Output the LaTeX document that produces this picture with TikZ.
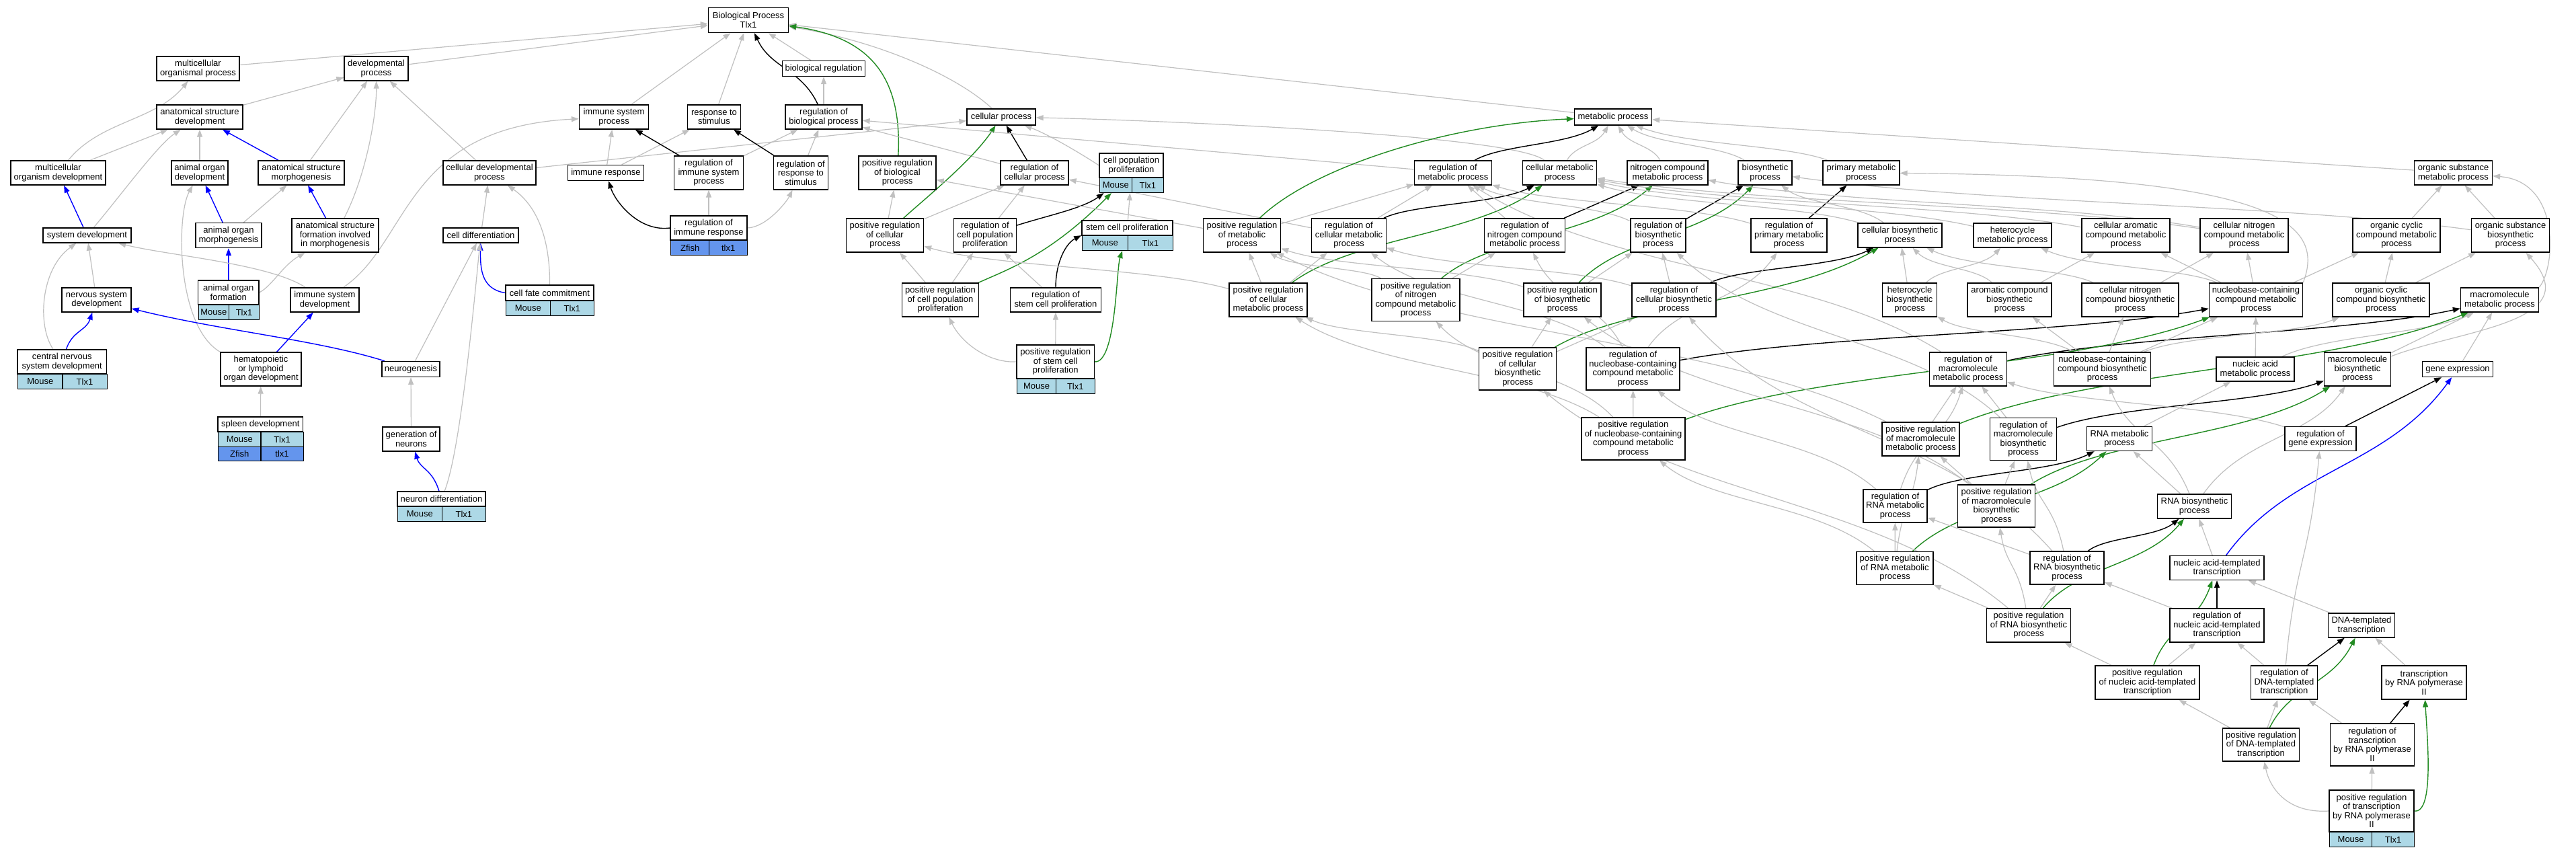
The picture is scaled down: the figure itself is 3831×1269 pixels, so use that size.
\documentclass[tikz,border=0pt]{standalone}
\usepackage{fontspec}
\setmainfont{Liberation Sans}
\usetikzlibrary{arrows.meta,fit,backgrounds,calc}
\definecolor{eg}{RGB}{192,192,192}
\definecolor{eggreen}{RGB}{34,139,34}
\definecolor{egblue}{RGB}{0,0,255}
\definecolor{lb}{RGB}{173,216,230}
\definecolor{cf}{RGB}{100,149,237}
\newcommand{\gnode}[6]{\node[gbox,minimum width=#4pt,minimum height=#5pt] (#1) at (#2,#3) {#6};}
\newcommand{\tcell}[6]{\node[gcell,fill=#5,minimum width=#4pt,anchor=north west] (#1) at (#2,#3) {#6};}
\newcommand{\Es}[3]{\draw[#1] (#2) -- (#3);}
\newcommand{\Ec}[3]{\draw[#1] let \p1=(#2), \p2=(#3) in (#2) .. controls ({0.7*\x1+0.3*\x2},{0.5*\y1+0.5*\y2}) and ({0.3*\x1+0.7*\x2},{0.5*\y1+0.5*\y2}) .. (#3);}
\begin{document}
\begin{tikzpicture}[x=1pt,y=-1pt,
 gbox/.style={draw=black, line width=1.3pt, fill=white, inner sep=0pt, align=center, font=\fontsize{13}{13.5}\selectfont},
 gcell/.style={draw=black, line width=1.3pt, inner sep=0pt, minimum height=21.5pt, font=\fontsize{13}{13.5}\selectfont},
 arr/.style={-{Triangle[length=11pt,width=8pt]}},
 eisa/.style={draw=eg, line width=1.2pt, arr},
 ereg/.style={draw=black, line width=1.4pt, arr},
 epos/.style={draw=eggreen, line width=1.4pt, arr},
 epart/.style={draw=egblue, line width=1.4pt, arr}]
\useasboundingbox (0,0) rectangle (3831,1269);
% ---------------- nodes
\gnode{bp}{1113}{30}{119}{37}{Biological Process\\Tlx1}
\gnode{mop}{294.5}{102}{123}{36}{multicellular\\organismal process}
\gnode{dp}{559.5}{102}{95}{36}{developmental\\process}
\gnode{breg}{1225}{102}{123}{23}{biological regulation}
\gnode{asd}{297}{174}{128}{36}{anatomical structure\\development}
\gnode{isp}{913}{174}{103}{36}{immune system\\process}
\gnode{rts}{1062}{174}{79}{36}{response to\\stimulus}
\gnode{rbp}{1225}{174}{114}{36}{regulation of\\biological process}
\gnode{cp}{1489}{174}{102}{24}{cellular process}
\gnode{mp}{2399}{174}{115}{24}{metabolic process}
\gnode{mod}{86.5}{257}{141}{36}{multicellular\\organism development}
\gnode{aod}{297}{257}{84}{36}{animal organ\\development}
\gnode{asm}{448}{257}{128}{36}{anatomical structure\\morphogenesis}
\gnode{cdp}{728}{257}{138}{36}{cellular developmental\\process}
\gnode{ir}{901}{257}{113}{23}{immune response}
\gnode{risp}{1054}{257}{103}{50}{regulation of\\immune system\\process}
\gnode{rrts}{1191}{257}{81}{50}{regulation of\\response to\\stimulus}
\gnode{prbp}{1334.5}{257}{115}{50}{positive regulation\\of biological\\process}
\gnode{rcp}{1538.5}{257}{101}{36}{regulation of\\cellular process}
\gnode{cpp}{1682.5}{246}{95}{36}{cell population\\proliferation}
\tcell{cppm}{1635}{264}{47.5}{lb}{Mouse}
\tcell{cppt}{1682.5}{264}{47.5}{lb}{Tlx1}
\gnode{rmp}{2161}{257}{115}{36}{regulation of\\metabolic process}
\gnode{cmp}{2319.5}{257}{110}{36}{cellular metabolic\\process}
\gnode{ncmp}{2480}{257}{120}{36}{nitrogen compound\\metabolic process}
\gnode{bsp}{2625}{257}{80}{36}{biosynthetic\\process}
\gnode{pmp}{2768}{257}{114}{36}{primary metabolic\\process}
\gnode{osmp}{3648.5}{257}{116}{36}{organic substance\\metabolic process}
\gnode{sd}{129.5}{350}{131}{22}{system development}
\gnode{aom}{340}{350}{98}{37}{animal organ\\morphogenesis}
\gnode{asfm}{498.5}{350}{129}{50}{anatomical structure\\formation involved\\in morphogenesis}
\gnode{cd}{715}{350}{112}{22}{cell differentiation}
\gnode{rir}{1054}{339}{114}{36}{regulation of\\immune response}
\tcell{rirm}{997}{357}{57}{cf}{Zfish}
\tcell{rirt}{1054}{357}{57}{cf}{tlx1}
\gnode{prcp}{1316}{350}{115}{50}{positive regulation\\of cellular\\process}
\gnode{rcpp}{1465}{350}{93}{50}{regulation of\\cell population\\proliferation}
\gnode{scp}{1676.5}{339}{135}{22}{stem cell proliferation}
\tcell{scpm}{1609}{350}{67.5}{lb}{Mouse}
\tcell{scpt}{1676.5}{350}{67.5}{lb}{Tlx1}
\gnode{prmp}{1847}{350}{115}{50}{positive regulation\\of metabolic\\process}
\gnode{rcmp}{2006}{350}{111}{50}{regulation of\\cellular metabolic\\process}
\gnode{rncmp}{2267.5}{350}{120}{50}{regulation of\\nitrogen compound\\metabolic process}
\gnode{rbsp}{2466}{350}{82}{50}{regulation of\\biosynthetic\\process}
\gnode{rpmp}{2660.5}{350}{113}{50}{regulation of\\primary metabolic\\process}
\gnode{cbp}{2825.5}{350}{125}{36}{cellular biosynthetic\\process}
\gnode{hmp}{2993}{350}{116}{36}{heterocycle\\metabolic process}
\gnode{camp}{3161.5}{350}{131}{50}{cellular aromatic\\compound metabolic\\process}
\gnode{cncmp}{3337.5}{350}{131}{50}{cellular nitrogen\\compound metabolic\\process}
\gnode{occmp}{3564}{350}{130}{50}{organic cyclic\\compound metabolic\\process}
\gnode{osbp}{3733.5}{350}{116}{50}{organic substance\\biosynthetic\\process}
\gnode{nsd}{143.5}{446}{103}{36}{nervous system\\development}
\gnode{aof}{339.75}{435}{90.5}{36}{animal organ\\formation}
\tcell{aofm}{294.5}{453}{45.25}{lb}{Mouse}
\tcell{aoft}{339.75}{453}{45.25}{lb}{Tlx1}
\gnode{isd}{483}{446}{102}{36}{immune system\\development}
\gnode{cfc}{817.5}{435.5}{131}{23}{cell fate commitment}
\tcell{cfcm}{752}{447}{65.5}{lb}{Mouse}
\tcell{cfct}{817.5}{447}{65.5}{lb}{Tlx1}
\gnode{prcpp}{1398.5}{446}{114}{50}{positive regulation\\of cell population\\proliferation}
\gnode{rscp}{1570}{446}{135}{36}{regulation of\\stem cell proliferation}
\gnode{prcmp}{1886}{446}{116}{50}{positive regulation\\of cellular\\metabolic process}
\gnode{prncmp}{2105.5}{446}{131}{63}{positive regulation\\of nitrogen\\compound metabolic\\process}
\gnode{prbsp}{2323.5}{446}{115}{50}{positive regulation\\of biosynthetic\\process}
\gnode{rcbp}{2489.5}{446}{125}{50}{regulation of\\cellular biosynthetic\\process}
\gnode{hbp}{2840}{446}{81}{50}{heterocycle\\biosynthetic\\process}
\gnode{acbp}{2988.5}{446}{125}{50}{aromatic compound\\biosynthetic\\process}
\gnode{cncbp}{3168}{446}{144}{50}{cellular nitrogen\\compound biosynthetic\\process}
\gnode{nccmp}{3355}{446}{139}{50}{nucleobase-containing\\compound metabolic\\process}
\gnode{occbp}{3541}{446}{144}{50}{organic cyclic\\compound biosynthetic\\process}
\gnode{mmp}{3717.5}{446}{116}{36}{macromolecule\\metabolic process}
\gnode{cnsd}{92.25}{538}{132.5}{36}{central nervous\\system development}
\tcell{cnsdm}{26}{556}{66.25}{lb}{Mouse}
\tcell{cnsdt}{92.25}{556}{66.25}{lb}{Tlx1}
\gnode{hlod}{388}{549}{120}{50}{hematopoietic\\or lymphoid\\organ development}
\gnode{ng}{611}{549}{86}{23}{neurogenesis}
\gnode{prscp}{1569.75}{538}{115.5}{50}{positive regulation\\of stem cell\\proliferation}
\tcell{prscpm}{1512}{563}{57.75}{lb}{Mouse}
\tcell{prscpt}{1569.75}{563}{57.75}{lb}{Tlx1}
\gnode{prcbp}{2257}{548.5}{115}{63}{positive regulation\\of cellular\\biosynthetic\\process}
\gnode{rnccmp}{2428.5}{548.5}{139}{63}{regulation of\\nucleobase-containing\\compound metabolic\\process}
\gnode{rmmp}{2927}{549}{115}{50}{regulation of\\macromolecule\\metabolic process}
\gnode{nccbp}{3126.5}{549}{144}{50}{nucleobase-containing\\compound biosynthetic\\process}
\gnode{namp}{3354}{549}{116}{36}{nucleic acid\\metabolic process}
\gnode{mbp}{3506}{549}{99}{50}{macromolecule\\biosynthetic\\process}
\gnode{ge}{3655}{549}{105}{23}{gene expression}
\gnode{spd}{387.25}{631}{126.5}{22}{spleen development}
\tcell{spdm}{324}{642}{63.25}{lb}{Mouse}
\tcell{spdt}{387.25}{642}{63.25}{lb}{Tlx1}
\tcell{spdz}{324}{663.5}{63.25}{cf}{Zfish}
\tcell{spdu}{387.25}{663.5}{63.25}{cf}{tlx1}
\gnode{gon}{611.5}{653}{85}{36}{generation of\\neurons}
\gnode{prnccmp}{2429}{652.5}{154}{63}{positive regulation\\of nucleobase-containing\\compound metabolic\\process}
\gnode{prmmp}{2856.5}{653}{115}{50}{positive regulation\\of macromolecule\\metabolic process}
\gnode{rmbp}{3009}{653}{99}{63}{regulation of\\macromolecule\\biosynthetic\\process}
\gnode{rnamp}{3152}{652.5}{97}{36}{RNA metabolic\\process}
\gnode{rge}{3451}{652.5}{106}{36}{regulation of\\gene expression}
\gnode{nd}{656.5}{742}{131}{22}{neuron differentiation}
\tcell{ndm}{591}{753}{65.5}{lb}{Mouse}
\tcell{ndt}{656.5}{753}{65.5}{lb}{Tlx1}
\gnode{rrnamp}{2818.5}{752.5}{95}{49}{regulation of\\RNA metabolic\\process}
\gnode{prmbp}{2969}{752.5}{115}{63}{positive regulation\\of macromolecule\\biosynthetic\\process}
\gnode{rnabp}{3263.5}{753}{110}{36}{RNA biosynthetic\\process}
\gnode{prrnamp}{2818}{845}{114}{49}{positive regulation\\of RNA metabolic\\process}
\gnode{rrnabp}{3074}{844.5}{110}{49}{regulation of\\RNA biosynthetic\\process}
\gnode{natt}{3297}{844.5}{140}{36}{nucleic acid-templated\\transcription}
\gnode{prrnabp}{3017}{930}{125}{50}{positive regulation\\of RNA biosynthetic\\process}
\gnode{rnatt}{3297}{930}{140}{50}{regulation of\\nucleic acid-templated\\transcription}
\gnode{dtt}{3512}{930}{99}{36}{DNA-templated\\transcription}
\gnode{prnatt}{3193.5}{1015}{155}{50}{positive regulation\\of nucleic acid-templated\\transcription}
\gnode{rdtt}{3397}{1015}{99}{50}{regulation of\\DNA-templated\\transcription}
\gnode{trp2}{3605}{1015}{126}{50}{transcription\\by RNA polymerase\\II}
\gnode{prdtt}{3362.5}{1107.5}{114}{49}{positive regulation\\of DNA-templated\\transcription}
\gnode{rtrp2}{3528}{1107.5}{125}{63}{regulation of\\transcription\\by RNA polymerase\\II}
\gnode{prtrp2}{3527}{1206}{126}{62}{positive regulation\\of transcription\\by RNA polymerase\\II}
\tcell{prtrp2m}{3464}{1237}{63}{lb}{Mouse}
\tcell{prtrp2t}{3527}{1237}{63}{lb}{Tlx1}
\node[fit=(cpp)(cppm)(cppt), inner sep=0pt] (cppA) {};
\node[fit=(scp)(scpm)(scpt), inner sep=0pt] (scpA) {};
% ---------------- edges
\begin{pgfonlayer}{background}
\fill[white] (0,0) rectangle (3831,1269);
% left
\Es{eisa}{mop}{bp}
\Es{eisa}{dp}{bp}
\Es{eisa}{asd}{dp}
\Ec{eisa}{mod}{mop}
\Es{eisa}{mod}{asd}
\Es{eisa}{aod}{asd}
\Es{epart}{asm}{asd}
\Es{eisa}{asm}{dp}
\Es{eisa}{cdp}{dp}
\Es{eisa}{cdp}{cp}
\Es{eisa}{isp}{bp}
\Es{eisa}{ir}{isp}
\Es{eisa}{ir}{rts}
\Es{epart}{sd}{mod}
\draw[eisa] (sd) .. controls (180,290) and (235,215) .. (asd);
\Es{epart}{aom}{aod}
\Es{eisa}{aom}{asm}
\Es{epart}{asfm}{asm}
\draw[eisa] (asfm) .. controls (545,260) and (560,170) .. (dp);
\Es{eisa}{cd}{cdp}
\Es{eisa}{nsd}{sd}
\Es{epart}{aof}{aom}
\draw[eisa] (aof.east) .. controls (405,425) and (420,395) .. (asfm);
\draw[eisa] (isd) .. controls (400,392) and (250,380) .. (sd);
\draw[eisa] (isd) .. controls (610,360) and (600,190) .. (isp);
\draw[epart] (cfc.west) .. controls (716,430) and (714,400) .. (cd);
\draw[eisa] (cfc) .. controls (818,340) and (790,300) .. (cdp);
\Ec{epart}{cnsd}{nsd}
\draw[eisa] (cnsd) .. controls (55,485) and (60,400) .. (sd);
\Es{epart}{hlod}{isd}
\draw[eisa] (hlod.north west) .. controls (262,485) and (262,320) .. (aod);
\draw[epart] (ng) .. controls (470,505) and (330,492) .. (nsd);
\Es{eisa}{ng}{cd}
\Es{eisa}{spd}{hlod}
\Es{eisa}{gon}{ng}
\Ec{epart}{nd}{gon}
\draw[eisa] (nd) .. controls (685,670) and (705,450) .. (cd);
% middle
\Es{eisa}{rts}{bp}
\Es{eisa}{breg}{bp}
\Ec{ereg}{rbp}{bp}
\Es{eisa}{rbp}{breg}
\draw[eisa] (cp) .. controls (1420,110) and (1300,60) .. (bp);
\Es{eisa}{mp}{bp}
\draw[epos] (prbp) .. controls (1342,110) and (1290,55) .. (bp);
\Es{ereg}{risp}{isp}
\Es{eisa}{risp}{rbp}
\Es{ereg}{rrts}{rts}
\Es{eisa}{rrts}{rbp}
\draw[ereg] (rir.west) .. controls (950,345) and (915,300) .. (ir);
\Es{eisa}{rir}{risp}
\draw[eisa] (rir.east) .. controls (1140,338) and (1170,300) .. (rrts);
\Es{ereg}{rcp}{cp}
\Es{eisa}{rcp}{rbp}
\draw[eisa] (cpp.west) .. controls (1610,230) and (1560,200) .. (cp);
\draw[epos] (prcp) .. controls (1370,300) and (1445,240) .. (cp);
\Es{eisa}{prcp}{rcp}
\Es{eisa}{prcp}{prbp}
\Es{eisa}{rcpp}{rcp}
\draw[ereg] (rcpp) .. controls (1560,320) and (1610,310) .. (cppA);
\Es{eisa}{scp}{cppA}
\Es{eisa}{prcpp}{rcpp}
\draw[epos] (prcpp) .. controls (1500,400) and (1560,380) .. (cppA);
\Es{eisa}{prcpp}{prcp}
\Es{eisa}{rscp}{rcpp}
\draw[ereg] (rscp) .. controls (1570,390) and (1585,362) .. (scpA.west);
\Es{eisa}{prscp}{rscp}
\draw[epos] (prscp.east) .. controls (1660,540) and (1660,400) .. (scpA);
\draw[eisa] (prscp.west) .. controls (1470,540) and (1430,510) .. (prcpp);
% metabolic
\draw[eisa] (cmp) .. controls (2250,200) and (1700,178) .. (cp);
\Es{eisa}{rmp}{rbp}
\Es{eisa}{rcmp}{rcp}
\Es{eisa}{prmp}{prbp}
\draw[epos] (prmp) .. controls (1950,250) and (2150,185) .. (mp);
\Es{eisa}{prmp}{rmp}
\Es{eisa}{prcmp}{prmp}
\Es{eisa}{prcmp}{rcmp}
\Ec{epos}{prcmp}{cmp}
\Ec{eisa}{prcmp}{prcp}
\Ec{ereg}{rmp}{mp}
\Ec{eisa}{cmp}{mp}
\Ec{eisa}{ncmp}{mp}
\Ec{eisa}{bsp}{mp}
\Ec{eisa}{pmp}{mp}
\Es{eisa}{osmp}{mp}
\Es{eisa}{rcmp}{rmp}
\Ec{ereg}{rcmp}{cmp}
\Es{eisa}{rncmp}{rmp}
\Es{ereg}{rncmp}{ncmp}
\Ec{eisa}{rbsp}{rmp}
\Es{ereg}{rbsp}{bsp}
\Ec{eisa}{rpmp}{rmp}
\Es{ereg}{rpmp}{pmp}
\Ec{eisa}{rmmp}{rmp}
\Es{eisa}{prncmp}{rncmp}
\Ec{epos}{prncmp}{ncmp}
\Ec{eisa}{prncmp}{prmp}
\Es{eisa}{prbsp}{rbsp}
\Ec{epos}{prbsp}{bsp}
\Ec{eisa}{prbsp}{prmp}
\Es{eisa}{rcbp}{rbsp}
\Ec{eisa}{rcbp}{rcmp}
\Ec{ereg}{rcbp}{cbp}
\Ec{eisa}{cbp}{bsp}
\Ec{eisa}{cbp}{cmp}
\Ec{eisa}{hmp}{cmp}
\Ec{eisa}{camp}{cmp}
\Ec{eisa}{cncmp}{cmp}
\Ec{eisa}{cncmp}{ncmp}
\Es{eisa}{occmp}{osmp}
\Es{eisa}{osbp}{osmp}
\Ec{eisa}{osbp}{bsp}
\Es{eisa}{hbp}{cbp}
\Ec{eisa}{hbp}{hmp}
\Es{eisa}{acbp}{camp}
\Ec{eisa}{acbp}{cbp}
\Es{eisa}{cncbp}{cncmp}
\Ec{eisa}{cncbp}{cbp}
\Ec{eisa}{nccmp}{hmp}
\Es{eisa}{nccmp}{camp}
\Es{eisa}{nccmp}{cncmp}
\Es{eisa}{nccmp}{occmp}
\draw[eisa] (nccmp.north east) .. controls (3460,330) and (3380,262) .. (pmp);
\Es{eisa}{occbp}{occmp}
\Es{eisa}{occbp}{osbp}
\draw[eisa] (mmp.north east) .. controls (3800,400) and (3810,270) .. (osmp);
\Es{eisa}{prcbp}{rcbp}
\Es{eisa}{prcbp}{prbsp}
\Ec{epos}{prcbp}{cbp}
\Ec{eisa}{prcbp}{prcmp}
\Ec{eisa}{rnccmp}{rcmp}
\Ec{eisa}{rnccmp}{rncmp}
\Ec{eisa}{rnccmp}{rpmp}
\Ec{ereg}{rnccmp}{nccmp}
\Ec{ereg}{rmmp}{mmp}
\Es{eisa}{nccbp}{nccmp}
\Es{eisa}{nccbp}{cncbp}
\Es{eisa}{nccbp}{acbp}
\Ec{eisa}{nccbp}{hbp}
\Ec{eisa}{nccbp}{occbp}
\Es{eisa}{namp}{nccmp}
\Ec{eisa}{namp}{mmp}
\Es{eisa}{mbp}{mmp}
\draw[eisa] (mbp) .. controls (3660,490) and (3850,480) .. (osbp);
\Es{eisa}{ge}{mmp}
\Es{eisa}{prnccmp}{rnccmp}
\Ec{eisa}{prnccmp}{prcmp}
\Ec{eisa}{prnccmp}{prncmp}
\Ec{epos}{prnccmp}{nccmp}
\Es{eisa}{prmmp}{rmmp}
\Ec{eisa}{prmmp}{prmp}
\Ec{epos}{prmmp}{mmp}
\Es{eisa}{rmbp}{rmmp}
\Ec{eisa}{rmbp}{rbsp}
\Ec{ereg}{rmbp}{mbp}
\Es{eisa}{rnamp}{namp}
\Ec{eisa}{rge}{rmmp}
\Es{ereg}{rge}{ge}
\Ec{eisa}{rrnamp}{rmmp}
\Ec{eisa}{rrnamp}{rnccmp}
\Ec{ereg}{rrnamp}{rnamp}
\Es{eisa}{prmbp}{rmbp}
\Es{eisa}{prmbp}{prmmp}
\Ec{epos}{prmbp}{mbp}
\Ec{eisa}{prmbp}{prbsp}
\Es{eisa}{rnabp}{rnamp}
\Ec{eisa}{rnabp}{nccbp}
\Ec{eisa}{rnabp}{mbp}
\Es{eisa}{prrnamp}{rrnamp}
\Ec{epos}{prrnamp}{rnamp}
\Ec{eisa}{prrnamp}{prnccmp}
\Ec{eisa}{prrnamp}{prmmp}
\Es{eisa}{rrnabp}{rrnamp}
\Ec{eisa}{rrnabp}{rmbp}
\Ec{ereg}{rrnabp}{rnabp}
\Ec{eisa}{rrnabp}{rcbp}
\Es{eisa}{natt}{rnabp}
\Ec{epart}{natt}{ge}
\Es{eisa}{prrnabp}{rrnabp}
\Es{eisa}{prrnabp}{prrnamp}
\Ec{epos}{prrnabp}{rnabp}
\Ec{eisa}{prrnabp}{prmbp}
\Ec{eisa}{prrnabp}{prcbp}
\Es{ereg}{rnatt}{natt}
\Es{eisa}{rnatt}{rrnabp}
\Es{eisa}{dtt}{natt}
\Es{eisa}{prnatt}{rnatt}
\Es{eisa}{prnatt}{prrnabp}
\Ec{epos}{prnatt}{natt}
\Es{eisa}{rdtt}{rnatt}
\Es{ereg}{rdtt}{dtt}
\Ec{eisa}{rdtt}{rge}
\Es{eisa}{trp2}{dtt}
\Es{eisa}{prdtt}{prnatt}
\Es{eisa}{prdtt}{rdtt}
\Ec{epos}{prdtt}{dtt}
\Es{eisa}{rtrp2}{rdtt}
\Es{ereg}{rtrp2}{trp2}
\Es{eisa}{prtrp2}{rtrp2}
\draw[eisa] (prtrp2.west) .. controls (3400,1210) and (3375,1170) .. (prdtt);
\draw[epos] (prtrp2.east) .. controls (3620,1210) and (3610,1100) .. (trp2);
\end{pgfonlayer}
\end{tikzpicture}
\end{document}
